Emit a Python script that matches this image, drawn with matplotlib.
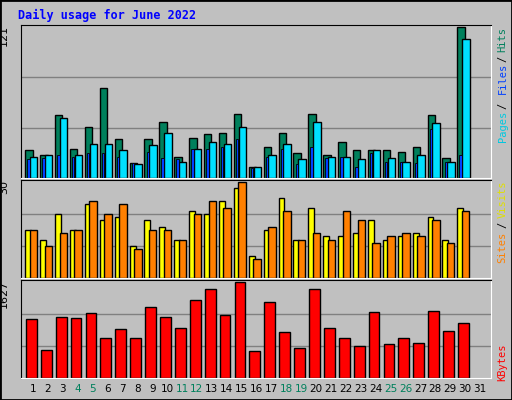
import matplotlib.pyplot as plt
import numpy as np
from matplotlib.patches import Rectangle

days = list(range(1, 32))
hits = [22, 18, 50, 23, 41, 72, 31, 12, 31, 45, 17, 32, 35, 36, 51, 9, 25, 36, 20, 51,
        18, 29, 22, 22, 22, 21, 25, 50, 16, 121]
files = [17, 18, 48, 18, 27, 27, 22, 11, 26, 36, 13, 23, 29, 27, 41, 9, 18, 27, 15, 45,
         17, 17, 15, 22, 16, 13, 18, 44, 13, 111]
pages = [15, 16, 18, 17, 20, 20, 17, 12, 21, 16, 15, 23, 23, 25, 31, 8, 17, 23, 11, 25,
         16, 17, 9, 20, 13, 13, 12, 39, 13, 18]
visits = [15, 12, 20, 15, 23, 18, 19, 10, 18, 16, 12, 21, 20, 24, 28, 7, 15, 25, 12, 22,
          13, 13, 14, 18, 12, 13, 14, 19, 12, 22]
sites = [15, 10, 14, 15, 24, 20, 23, 9, 15, 15, 12, 20, 24, 22, 30, 6, 16, 21, 12, 14,
         12, 21, 18, 11, 13, 14, 13, 18, 11, 21]
kbytes = [1004, 469, 1039, 1021, 1093, 683, 825, 683, 1200, 1039, 843, 1324, 1502, 1075,
          1627, 451, 1289, 772, 505, 1502, 843, 683, 540, 1110, 576, 683, 594, 1128, 790, 932]
weekends = [4, 5, 11, 12, 18, 19, 25, 26]

W, H = 512, 400
fig = plt.figure(figsize=(W / 100, H / 100), dpi=100, facecolor='#C0C0C0')
fig.patches.append(Rectangle((0, 0), 1, 1, transform=fig.transFigure, fill=False,
                             edgecolor='black', linewidth=2))
fig.text(18 / W, 1 - 15 / H, 'Daily usage for June 2022', color='#0000FF',
         fontsize=8.5, fontweight='bold', family='DejaVu Sans Mono', va='center')


def panel(top, bottom):
    ax = fig.add_axes([21 / W, 1 - bottom / H, 470 / W, (bottom - top) / H])
    ax.set_facecolor('#C0C0C0')
    ax.set_xlim(0.195, 31.74)
    for s in ['left', 'top']:
        ax.spines[s].set_color('black')
    for s in ['right', 'bottom']:
        ax.spines[s].set_color('white')
    ax.set_xticks([])
    ax.set_yticks([])
    return ax


def side(ax, y, s, color='black'):
    ax.text(1.025, y, s, transform=ax.transAxes, rotation=90, ha='center', va='top',
            fontsize=7.5, family='DejaVu Sans Mono', color=color)


x = np.array(days[:30])
kw = dict(edgecolor='black', linewidth=1, align='edge')

ax1 = panel(25, 178)
ax1.set_ylim(0, 121 * 1.01)
for f in (1 / 3, 2 / 3):
    ax1.axhline(121 * f, color='#808080', linewidth=1, zorder=0)
ax1.bar(x - 0.52, hits, width=0.5, color='#00805C', **kw)
ax1.bar(x - 0.38, pages, width=0.16, color='#0040FF', linewidth=0.6, edgecolor='black',
        align='edge', zorder=3)
ax1.bar(x - 0.2, files, width=0.5, color='#00E0FF', **kw)
ax1.text(-0.025, 1, '121', transform=ax1.transAxes, rotation=90, ha='right', va='top', fontsize=8)
side(ax1, 0.99, 'Hits', '#00805C')
side(ax1, 0.8, '/')
side(ax1, 0.75, 'Files', '#0040FF')
side(ax1, 0.49, '/')
side(ax1, 0.44, 'Pages', '#00C8E0')

ax2 = panel(180, 278)
ax2.set_ylim(0, 30 * 1.02)
for f in (1 / 3, 2 / 3):
    ax2.axhline(30 * f, color='#808080', linewidth=1, zorder=0)
ax2.bar(x - 0.52, visits, width=0.4, color='#FFFF00', **kw)
ax2.bar(x - 0.215, sites, width=0.5, color='#FF8000', **kw)
ax2.text(-0.025, 1, '30', transform=ax2.transAxes, rotation=90, ha='right', va='top', fontsize=8)
side(ax2, 0.99, 'Visits', '#E0E000')
side(ax2, 0.57, '/')
side(ax2, 0.47, 'Sites', '#FF8000')

ax3 = panel(280, 378)
ax3.set_ylim(0, 1627 * 1.02)
for f in (1 / 3, 2 / 3):
    ax3.axhline(1627 * f, color='#808080', linewidth=1, zorder=0)
ax3.bar(x - 0.47, kbytes, width=0.72, color='#FF0000', **kw)
ax3.text(-0.025, 1, '1627', transform=ax3.transAxes, rotation=90, ha='right', va='top', fontsize=8)
side(ax3, 0.35, 'KBytes', '#FF0000')

for d in days:
    xf = (33 + 14.9 * (d - 1)) / W
    fig.text(xf, 1 - 389 / H, str(d), ha='center', va='center', fontsize=7.5,
             color='#00805C' if d in weekends else 'black')

fig.savefig('out.png', dpi=100, facecolor=fig.get_facecolor())
